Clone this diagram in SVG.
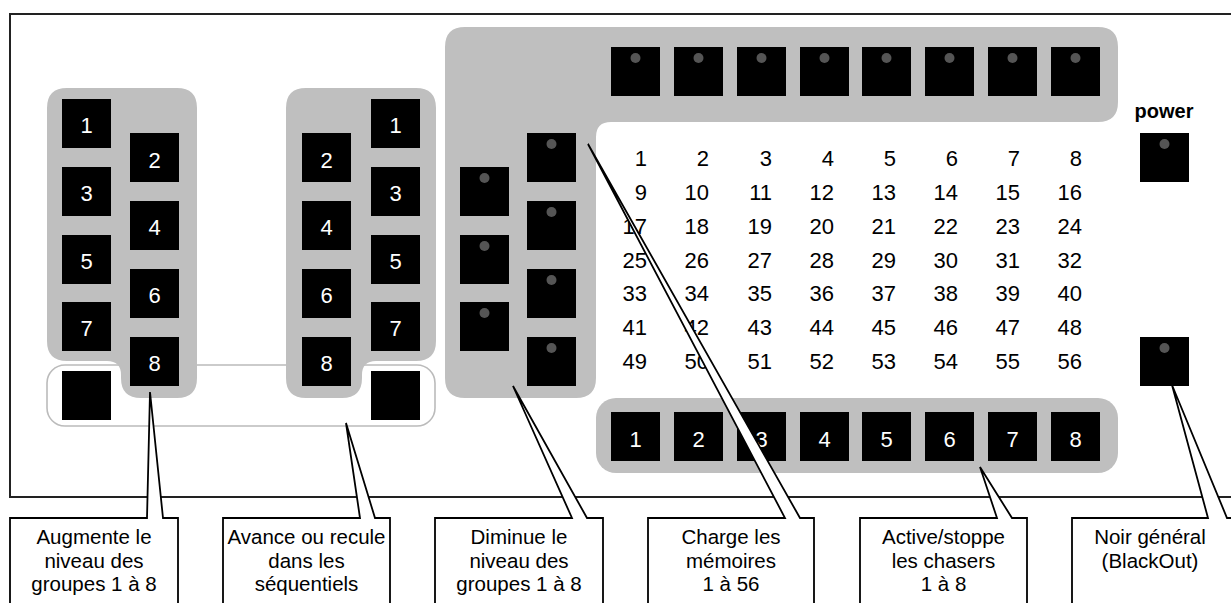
<svg xmlns="http://www.w3.org/2000/svg" width="1231" height="603" viewBox="0 0 1231 603">
<style>
.panel{fill:#fff;stroke:#222;stroke-width:2}
.grp{fill:#bfbfbf}
.btn{fill:#000}
.dot{fill:#555}
.bl{font-family:"Liberation Sans",Arial,sans-serif;font-size:22px;fill:#fff;text-anchor:middle}
.num{font-family:"Liberation Sans",Arial,sans-serif;font-size:22px;fill:#000;text-anchor:end}
.ct{font-family:"Liberation Sans",Arial,sans-serif;font-size:20.5px;fill:#000;text-anchor:middle}
.co{fill:#fff;stroke:#000;stroke-width:1.8;stroke-linejoin:miter}
</style>
<defs>
<rect id="b" width="49" height="49" class="btn"/>
<g id="bd"><rect width="49" height="49" class="btn"/><circle cx="24.5" cy="11" r="5" class="dot"/></g>
</defs>
<rect id="panel" x="10" y="14" width="1240" height="483" class="panel"/>

<g id="seq-frame">
<rect x="47" y="365" width="388" height="61" rx="18" fill="#fff" stroke="#bbb" stroke-width="1.6"/>
<use href="#b" x="62" y="371" height="47"/>
<use href="#b" x="371" y="371"/>
</g>

<g id="group-up">
<path class="grp" d="M67,88 H177 Q197,88 197,108 V378 Q197,398 177,398 H141 Q121,398 121,378 V375 Q121,361 107,361 H67 Q47,361 47,341 V108 Q47,88 67,88 Z"/>
<use href="#b" x="62" y="99"/><text class="bl" x="86.5" y="133">1</text>
<use href="#b" x="62" y="167"/><text class="bl" x="86.5" y="201">3</text>
<use href="#b" x="62" y="235"/><text class="bl" x="86.5" y="269">5</text>
<use href="#b" x="62" y="302"/><text class="bl" x="86.5" y="336">7</text>
<use href="#b" x="130" y="133"/><text class="bl" x="154.5" y="168">2</text>
<use href="#b" x="130" y="201"/><text class="bl" x="154.5" y="235">4</text>
<use href="#b" x="130" y="269"/><text class="bl" x="154.5" y="303">6</text>
<use href="#b" x="130" y="337"/><text class="bl" x="154.5" y="371">8</text>
</g>

<g id="group-seq">
<path class="grp" d="M306,88 H416 Q436,88 436,108 V341 Q436,361 416,361 H376 Q362,361 362,375 V378 Q362,398 342,398 H306 Q286,398 286,378 V108 Q286,88 306,88 Z"/>
<use href="#b" x="371" y="99"/><text class="bl" x="395.5" y="133">1</text>
<use href="#b" x="371" y="167"/><text class="bl" x="395.5" y="201">3</text>
<use href="#b" x="371" y="235"/><text class="bl" x="395.5" y="269">5</text>
<use href="#b" x="371" y="302"/><text class="bl" x="395.5" y="336">7</text>
<use href="#b" x="302" y="133"/><text class="bl" x="326.5" y="168">2</text>
<use href="#b" x="302" y="201"/><text class="bl" x="326.5" y="235">4</text>
<use href="#b" x="302" y="269"/><text class="bl" x="326.5" y="303">6</text>
<use href="#b" x="302" y="337"/><text class="bl" x="326.5" y="371">8</text>
</g>

<g id="group-memories">
<path class="grp" d="M465,27 H1098 Q1118,27 1118,47 V102 Q1118,122 1098,122 H611 Q596,122 596,137 V378 Q596,398 576,398 H465 Q445,398 445,378 V47 Q445,27 465,27 Z"/>
<use href="#bd" x="611" y="47"/><use href="#bd" x="674" y="47"/><use href="#bd" x="737" y="47"/><use href="#bd" x="800" y="47"/>
<use href="#bd" x="862" y="47"/><use href="#bd" x="925" y="47"/><use href="#bd" x="988" y="47"/><use href="#bd" x="1051" y="47"/>
<use href="#bd" x="527" y="133"/><use href="#bd" x="527" y="201"/><use href="#bd" x="527" y="269"/><use href="#bd" x="527" y="337"/>
<use href="#bd" x="460" y="167"/><use href="#bd" x="460" y="235"/><use href="#bd" x="460" y="302"/>
</g>

<g id="memory-numbers">
<text class="num" x="647" y="166">1</text><text class="num" x="709" y="166">2</text><text class="num" x="772" y="166">3</text><text class="num" x="834" y="166">4</text><text class="num" x="896" y="166">5</text><text class="num" x="958" y="166">6</text><text class="num" x="1020" y="166">7</text><text class="num" x="1082" y="166">8</text>
<text class="num" x="647" y="200">9</text><text class="num" x="709" y="200">10</text><text class="num" x="772" y="200">11</text><text class="num" x="834" y="200">12</text><text class="num" x="896" y="200">13</text><text class="num" x="958" y="200">14</text><text class="num" x="1020" y="200">15</text><text class="num" x="1082" y="200">16</text>
<text class="num" x="647" y="234">17</text><text class="num" x="709" y="234">18</text><text class="num" x="772" y="234">19</text><text class="num" x="834" y="234">20</text><text class="num" x="896" y="234">21</text><text class="num" x="958" y="234">22</text><text class="num" x="1020" y="234">23</text><text class="num" x="1082" y="234">24</text>
<text class="num" x="647" y="267.5">25</text><text class="num" x="709" y="267.5">26</text><text class="num" x="772" y="267.5">27</text><text class="num" x="834" y="267.5">28</text><text class="num" x="896" y="267.5">29</text><text class="num" x="958" y="267.5">30</text><text class="num" x="1020" y="267.5">31</text><text class="num" x="1082" y="267.5">32</text>
<text class="num" x="647" y="301">33</text><text class="num" x="709" y="301">34</text><text class="num" x="772" y="301">35</text><text class="num" x="834" y="301">36</text><text class="num" x="896" y="301">37</text><text class="num" x="958" y="301">38</text><text class="num" x="1020" y="301">39</text><text class="num" x="1082" y="301">40</text>
<text class="num" x="647" y="335">41</text><text class="num" x="709" y="335">42</text><text class="num" x="772" y="335">43</text><text class="num" x="834" y="335">44</text><text class="num" x="896" y="335">45</text><text class="num" x="958" y="335">46</text><text class="num" x="1020" y="335">47</text><text class="num" x="1082" y="335">48</text>
<text class="num" x="647" y="369">49</text><text class="num" x="709" y="369">50</text><text class="num" x="772" y="369">51</text><text class="num" x="834" y="369">52</text><text class="num" x="896" y="369">53</text><text class="num" x="958" y="369">54</text><text class="num" x="1020" y="369">55</text><text class="num" x="1082" y="369">56</text>
</g>

<g id="group-chasers">
<rect class="grp" x="596" y="398" width="522" height="75" rx="20"/>
<use href="#b" x="611" y="412" height="48"/><text class="bl" x="635.5" y="447">1</text>
<use href="#b" x="674" y="412"/><text class="bl" x="698.5" y="447">2</text>
<use href="#b" x="737" y="412"/><text class="bl" x="761.5" y="447">3</text>
<use href="#b" x="800" y="412"/><text class="bl" x="824.5" y="447">4</text>
<use href="#b" x="862" y="412"/><text class="bl" x="886.5" y="447">5</text>
<use href="#b" x="925" y="412"/><text class="bl" x="949.5" y="447">6</text>
<use href="#b" x="988" y="412"/><text class="bl" x="1012.5" y="447">7</text>
<use href="#b" x="1051" y="412"/><text class="bl" x="1075.5" y="447">8</text>
</g>

<g id="power">
<text x="1164" y="118" font-family="Liberation Sans,Arial,sans-serif" font-size="20" font-weight="bold" text-anchor="middle">power</text>
<use href="#bd" x="1140" y="133"/>
</g>
<g id="blackout">
<use href="#bd" x="1140" y="337"/>
</g>

<g id="connectors">
<path class="co" d="M10,615 V518 H147 L150,392 L163,518 H178 V615"/>
<path class="co" d="M223,615 V518 H360 L346,423 L375,518 H390 V615"/>
<path class="co" d="M435,615 V518 H572 L513,386 L587,518 H603 V615"/>
<path class="co" d="M648,615 V518 H785 L588,144 L800,518 H814 V615"/>
<path class="co" d="M860,615 V518 H997 L980,467 L1012,518 H1027 V615"/>
<path class="co" d="M1072,615 V518 H1208 L1172,385 L1227,518 H1245 V615"/>
</g>

<g id="labels">
<text class="ct" x="94" y="544">Augmente le</text><text class="ct" x="94" y="567.5">niveau des</text><text class="ct" x="94" y="591">groupes 1 à 8</text>
<text class="ct" x="306.5" y="544">Avance ou recule</text><text class="ct" x="306.5" y="567.5">dans les</text><text class="ct" x="306.5" y="591">séquentiels</text>
<text class="ct" x="519" y="544">Diminue le</text><text class="ct" x="519" y="567.5">niveau des</text><text class="ct" x="519" y="591">groupes 1 à 8</text>
<text class="ct" x="731" y="544">Charge les</text><text class="ct" x="731" y="567.5">mémoires</text><text class="ct" x="731" y="591">1 à 56</text>
<text class="ct" x="943.5" y="544">Active/stoppe</text><text class="ct" x="943.5" y="567.5">les chasers</text><text class="ct" x="943.5" y="591">1 à 8</text>
<text class="ct" x="1150" y="544">Noir général</text><text class="ct" x="1150" y="567.5">(BlackOut)</text>
</g>
</svg>
